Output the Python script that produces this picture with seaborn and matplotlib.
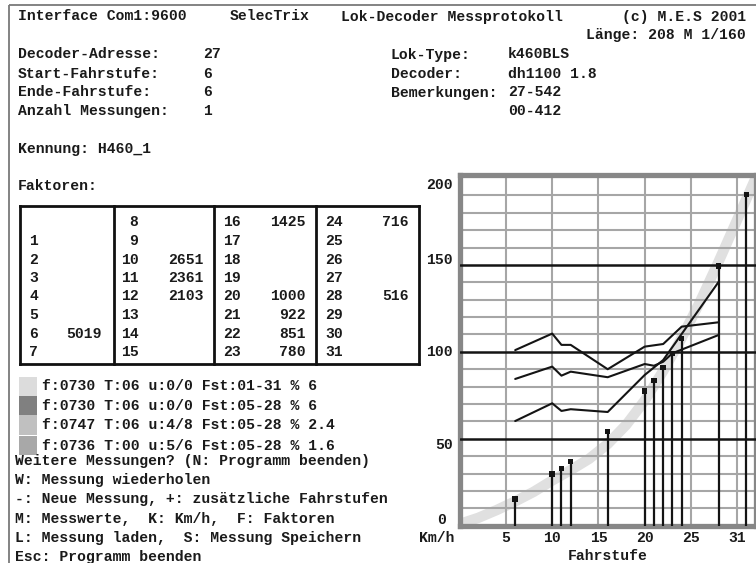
import matplotlib
matplotlib.use("Agg")
import matplotlib.pyplot as plt
import seaborn as sns
import pandas as pd

# ---- measurement data -------------------------------------------------
# speed steps with a measured speed (km/h)
stem_steps = [6, 10, 11, 12, 16, 20, 21, 22, 23, 24, 28, 31]
stem_speeds = [15.4, 29.6, 33.0, 36.8, 54.2, 77.5, 83.4, 91.0, 99.0, 107.6, 149.5, 190.5]

# reference characteristic (full step range 01-31)
curve_steps = [0, 2, 4, 6, 8, 10, 12, 14, 16, 18, 20, 22, 24, 26, 28, 30, 32]
curve_speeds = [1, 4.5, 9, 14, 19.5, 26, 32, 38.5, 47, 58, 72, 89, 108, 129, 152, 176, 200]

# earlier runs
run_a_steps = [6, 10, 11, 12, 16, 20, 22, 24, 28]
run_a_speeds = [101, 110.5, 104, 104, 90, 103, 104.5, 114.5, 117]
run_b_steps = [6, 10, 11, 12, 16, 20, 21, 22, 23, 28]
run_b_speeds = [84.4, 91.5, 86.3, 88.6, 85.4, 93, 92, 94.3, 99.2, 109.7]
run_c_steps = [6, 10, 11, 12, 16, 20, 22, 28]
run_c_speeds = [60.2, 70.4, 66, 67, 65.4, 86.7, 95.3, 140.3]

# decoder factors per speed step
factor_steps = [6, 10, 11, 12, 16, 20, 21, 22, 23, 24, 28]
factor_values = [5019, 2651, 2361, 2103, 1425, 1000, 922, 851, 780, 716, 516]

x_ticks = [5, 10, 15, 20, 25, 30]
x_tick_labels = ["5", "10", "15", "20", "25", "31"]
y_ticks = [0, 50, 100, 150, 200]
y_tick_labels = ["0", "50", "100", "150", "200"]

legend_entries = [
    "f:0730 T:06 u:0/0 Fst:01-31 % 6",
    "f:0730 T:06 u:0/0 Fst:05-28 % 6",
    "f:0747 T:06 u:4/8 Fst:05-28 % 2.4",
    "f:0736 T:00 u:5/6 Fst:05-28 % 1.6",
]
legend_colors = ["#dcdcdc", "#808080", "#c0c0c0", "#a8a8a8"]

menu_lines = [
    "Weitere Messungen? (N: Programm beenden)",
    "W: Messung wiederholen",
    "-: Neue Messung, +: zusätzliche Fahrstufen",
    "M: Messwerte,  K: Km/h,  F: Faktoren",
    "L: Messung laden,  S: Messung Speichern",
    "Esc: Programm beenden",
]

# ---- style ------------------------------------------------------------
sns.set_theme(style="white")
plt.rcParams["font.family"] = ["Liberation Mono", "DejaVu Sans Mono"]
plt.rcParams["font.weight"] = "bold"
FS = 10.6
TXT = "#1a1a1a"

W, H = 756, 563
fig = plt.figure(figsize=(W / 100, H / 100), dpi=100)
fig.patch.set_facecolor("white")

# full-window layer in pixel coordinates for the text screen
bg = fig.add_axes([0, 0, 1, 1])
bg.set_xlim(0, W)
bg.set_ylim(H, 0)
bg.axis("off")

def put(x, y, s, ha="left", size=FS):
    bg.text(x, y, s, ha=ha, va="center", fontsize=size, fontweight="bold", color=TXT)

# window border
bg.plot([8.5, W], [4.5, 4.5], color="#7a7a7a", lw=1.3, solid_capstyle="butt")
bg.plot([8.5, 8.5], [4.5, H], color="#7a7a7a", lw=1.3, solid_capstyle="butt")

# header
put(18, 16.5, "Interface Com1:9600")
put(230, 16.5, "SelecTrix")
put(341, 16.5, "Lok-Decoder Messprotokoll")
put(746, 16.5, "(c) M.E.S 2001", ha="right")
put(746, 34.5, "Länge: 208 M 1/160", ha="right")

left_labels = ["Decoder-Adresse:", "Start-Fahrstufe:", "Ende-Fahrstufe:", "Anzahl Messungen:"]
left_values = ["27", "6", "6", "1"]
right_labels = ["Lok-Type:", "Decoder:", "Bemerkungen:", ""]
right_values = ["k460BLS", "dh1100 1.8", "27-542", "00-412"]
row_y = [54.5, 73.5, 92.5, 111]
for y, a, b, c, d in zip(row_y, left_labels, left_values, right_labels, right_values):
    put(18, y, a)
    put(203, y, b)
    put(391, y, c)
    put(508, y, d)

put(18, 149.5, "Kennung: H460_1")
put(18, 186.5, "Faktoren:")

# factor table
tk = dict(color="#111111", lw=2.0, solid_capstyle="projecting")
tx0, tx1, ty0, ty1 = 20, 419, 206, 363.5
for xs, ys in [([tx0, tx1], [ty0, ty0]), ([tx0, tx1], [ty1, ty1]),
               ([tx0, tx0], [ty0, ty1]), ([tx1, tx1], [ty0, ty1])]:
    bg.plot(xs, ys, **tk)
for xc in [113.5, 213.5, 316]:
    bg.plot([xc, xc], [ty0, ty1], **tk)

factor_map = dict(zip(factor_steps, factor_values))
num_pos = [(29.5, "left"), (138.5, "right"), (223.5, "left"), (325, "left")]
val_pos = [101.5, 204, 306, 408.5]
for step in range(1, 32):
    col, row = divmod(step, 8)
    y = 222.5 + row * 18.5
    nx, nha = num_pos[col]
    put(nx, y, str(step), ha=nha)
    if step in factor_map:
        put(val_pos[col], y, str(factor_map[step]), ha="right")

# legend of runs
leg_y = [386.5, 406, 425, 445.5]
for y, s, c in zip(leg_y, legend_entries, legend_colors):
    bg.add_patch(plt.Rectangle((18.5, y - 9.8), 18.5, 19.6, color=c, lw=0))
    put(41.5, y, s)

for i, s in enumerate(menu_lines):
    put(15, 461 + i * 19.2, s)

# ---- chart ------------------------------------------------------------
x0_px, x1_px = 459.7, 755.7
y0_px, y1_px = 525.7, 174.5
ax = fig.add_axes([x0_px / W, (H - y0_px) / H, (x1_px - x0_px) / W, (y0_px - y1_px) / H])
ax.set_xlim(0, 32)
ax.set_ylim(0, 202)
ax.set_facecolor("white")

for v in range(10, 200, 10):
    if v % 50:
        ax.axhline(v, color="#a6a6a6", lw=1.5, zorder=2)
for v in x_ticks:
    ax.axvline(v, color="#a6a6a6", lw=1.5, zorder=2)
for v in (50, 100, 150):
    ax.axhline(v, color="#141414", lw=1.8, zorder=3)

curve = pd.DataFrame({"step": curve_steps, "kmh": curve_speeds})
sns.lineplot(data=curve, x="step", y="kmh", color="#e0e0e0", lw=7.5, ax=ax,
             zorder=1, solid_capstyle="butt")

for xs, ys in [(run_a_steps, run_a_speeds), (run_b_steps, run_b_speeds), (run_c_steps, run_c_speeds)]:
    sns.lineplot(x=xs, y=ys, color="#141414", lw=1.5, ax=ax, zorder=4)

ax.vlines(stem_steps, 0, stem_speeds, color="#141414", lw=1.6, zorder=5)
sns.scatterplot(x=stem_steps, y=stem_speeds, marker="s", s=16, color="#141414",
                edgecolor="none", ax=ax, zorder=6)

for sp in ax.spines.values():
    sp.set_visible(True)
    sp.set_color("#878787")
    sp.set_linewidth(3.8)

ax.set_xticks(x_ticks)
ax.set_xticklabels(x_tick_labels)
ax.set_yticks([])
ax.tick_params(axis="x", length=0, labelsize=FS, labelcolor=TXT, pad=4)
for lab in ax.get_xticklabels():
    lab.set_fontweight("bold")
ax.set_xlabel("")
ax.set_ylabel("")

# speed scale labels sit on the text grid left of the chart
y_label_pos = {0: (437, 520, "left"), 50: (453, 445, "right"), 100: (453, 352.5, "right"),
               150: (453, 260, "right"), 200: (453, 185, "right")}
for v, s in zip(y_ticks, y_tick_labels):
    lx, ly, lha = y_label_pos[v]
    put(lx, ly, s, ha=lha)

put(455, 538.5, "Km/h", ha="right")
put(607.5, 556, "Fahrstufe", ha="center")

fig.savefig("out.png", dpi=100, facecolor="white")
